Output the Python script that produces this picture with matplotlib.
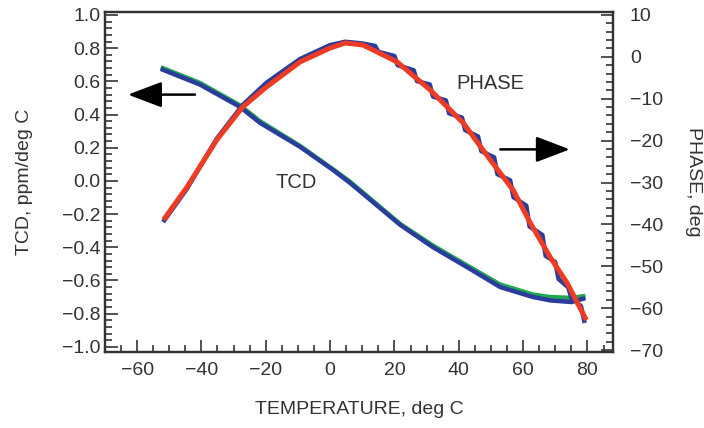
import matplotlib.pyplot as plt
from matplotlib.ticker import MultipleLocator

plt.rcParams['font.family'] = ['Liberation Sans', 'DejaVu Sans']

# TCD, ppm/deg C (left axis)
tcd_temp = [-52, -40.4, -28, -21.8, -9.3, 0.9, 6.2, 21.8, 32, 42.6, 52.9, 63.1, 68.4, 75, 78.7]
tcd_blue = [0.67, 0.58, 0.446, 0.35, 0.205, 0.066, -0.012, -0.265, -0.40, -0.52, -0.64, -0.70, -0.72, -0.73, -0.71]
tcd_green = [0.68, 0.59, 0.455, 0.36, 0.21, 0.07, -0.005, -0.26, -0.39, -0.51, -0.625, -0.685, -0.70, -0.705, -0.695]

# PHASE, deg (right axis)
ph_temp = [-51.3, -44.5, -35.2, -27.2, -19.8, -9.3, 0, 4.7, 10.3, 20.8, 31.1, 41.4,
           49.8, 56.9, 62.2, 68.4, 73.7, 79.3]
ph_red = [-38.4, -31.1, -19.8, -12.0, -7.2, -1.2, 2.1, 3.3, 2.8, -1.2, -7.9, -15.8,
          -24.6, -31.8, -39.6, -47.8, -54.0, -62.3]

ph_blue_temp = [-51.5, -44.5, -35.2, -27.2, -19.8, -9.3, 0, 4.7, 10, 14, 15, 20, 21, 26, 27,
                31, 32, 36, 37, 41, 42, 46, 47, 51, 52, 56, 57, 61, 62, 66, 67, 70,
                71, 74, 75, 78, 79]
ph_blue = [-39.0, -31.5, -19.5, -11.5, -6.2, -0.5, 2.8, 3.6, 3.2, 2.6, 1.2, 0.2, -2.0, -3.2,
           -5.8, -6.6, -9.5, -10.4, -13.5, -14.5, -17.5, -19.0, -22.5, -24.0, -28.0,
           -29.5, -33.5, -35.5, -40.5, -42.5, -47.5, -49.0, -53.0, -55.0, -57.5,
           -59.5, -63.0]

fig = plt.figure(figsize=(7.04, 4.28), dpi=100)
ax = fig.add_axes([0.149, 0.178, 0.722, 0.794])
ax2 = ax.twinx()

blue = '#2a3d9c'
green = '#1fa84f'
red = '#ee3b24'

ax.plot(tcd_temp, tcd_green, color=green, lw=3.2)
ax.plot(tcd_temp, tcd_blue, color=blue, lw=3.2)
ax2.plot(ph_blue_temp, ph_blue, color=blue, lw=3.2)
ax2.plot(ph_temp, ph_red, color=red, lw=3.6)

ax.set_xlim(-70, 88)
ax.set_ylim(-1.03, 1.018)
ax2.set_ylim(-70.4, 10.7)

dark = '#333333'
for a in (ax, ax2):
    for s in a.spines.values():
        s.set_linewidth(1.6)
        s.set_color(dark)

ax.xaxis.set_major_locator(MultipleLocator(20))
ax.xaxis.set_minor_locator(MultipleLocator(5))
ax.yaxis.set_major_locator(MultipleLocator(0.2))
ax.yaxis.set_minor_locator(MultipleLocator(0.04))
ax2.yaxis.set_major_locator(MultipleLocator(10))
ax2.yaxis.set_minor_locator(MultipleLocator(2))

fs = 14
ax.tick_params(which='both', direction='in', colors=dark, labelsize=fs, width=1.2)
ax.tick_params(which='major', length=9)
ax.tick_params(which='minor', length=5)
ax.tick_params(axis='x', pad=7)
ax.tick_params(axis='y', pad=3)
ax2.tick_params(which='both', direction='in', colors=dark, labelsize=fs, width=1.2)
ax2.tick_params(which='major', length=9, pad=12)
ax2.tick_params(which='minor', length=5)

ax.set_yticks([-1.0, -0.8, -0.6, -0.4, -0.2, 0.0, 0.2, 0.4, 0.6, 0.8, 1.0])
ax.set_yticklabels(['\u22121.0', '\u22120.8', '\u22120.6', '\u22120.4', '\u22120.2', '0.0',
                    '0.2', '0.4', '0.6', '0.8', '1.0'])

ax.set_xlabel('TEMPERATURE, deg C', fontsize=fs, color=dark, labelpad=16)
ax.set_ylabel('TCD, ppm/deg C', fontsize=fs, color=dark, labelpad=21)
ax2.set_ylabel('PHASE, deg', fontsize=fs, color=dark, rotation=-90, labelpad=28)

ax.text(-10.6, -0.01, 'TCD', fontsize=14.5, color=dark, ha='center', va='center')
ax.text(49.8, 0.584, 'PHASE', fontsize=14.5, color=dark, ha='center', va='center')

arrow = dict(arrowstyle='-|>,head_length=2.1,head_width=0.8', color='black', lw=1.8,
             shrinkA=0, shrinkB=0)
ax.annotate('', xy=(-62.8, 0.52), xytext=(-42, 0.52), arrowprops=arrow)
ax.annotate('', xy=(74.5, 0.19), xytext=(52.9, 0.19), arrowprops=arrow)

fig.savefig('out.png', dpi=100)
